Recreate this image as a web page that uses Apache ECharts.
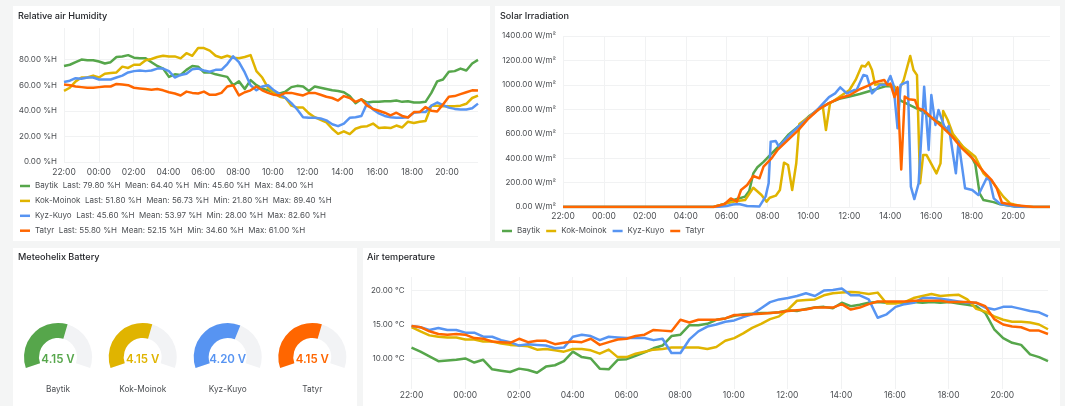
<!DOCTYPE html>
<html>
<head>
<meta charset="utf-8">
<style>html,body{margin:0;padding:0;background:#f4f5f5;}#main{width:1065px;height:406px;}</style>
<script src="https://cdn.jsdelivr.net/npm/echarts@6/dist/echarts.min.js"></script>
</head>
<body>
<div id="main"></div>
<script>
var stations = ['Baytik', 'Kok-Moinok', 'Kyz-Kuyo', 'Tatyr'];
var colors = ['#56a64b', '#e0b400', '#5794f2', '#ff6600'];
var hourLabels = ['22:00','00:00','02:00','04:00','06:00','08:00','10:00','12:00','14:00','16:00','18:00','20:00'];

// humidity, one value every 20 minutes from 22:00
var humBaytik = [75,76,78,80,79.5,79.5, 78.5,77,78,82,82.5,83.5, 81.5,81,81,78,75,73, 66.5,68.5,68,72,75,74.5,
  70,70,68.5,67.5,66.5,60, 63,57,64,60,57.5,56, 54.5,53.5,55,58.5,59.5,59, 55.5,59,58,57,56,55.5,
  54.5,51.5,46,49,46.5,47, 47,47.5,47.5,48,47,47.5, 46.5,46.5,47,54,63,64.5, 70.5,71,73,71.5,77,79.8];
var humKok = [55.5,58,63,66,66,67.5, 66,69,69.5,70,74.5,73.5, 76,76,79.5,80.5,82,83, 82.5,82.5,81,85,83,89,
  89,87,83,81.5,83,81.5, 81,82,83.5,71,66,58, 54,51,50,44,42.5,42.5, 38,35,33,31,26,22,
  24,21.8,26,27.5,28,30, 26.5,27,26.5,28.5,27,31.5, 30.5,31.5,32,44,44,43.5, 43.5,43.5,44,45.5,50,51.8];
var humKyz = [62.5,63.5,65.5,65,66,66, 64.5,64.5,64.5,66,67.5,70, 71,71.5,71,71.5,73,73, 71,66,68,69,72.5,73,
  71.5,70.5,72,72,76.5,82.6, 78,70,60,56,59,60, 56,53,50,46,41,35, 34.5,34.5,34,32.5,29.5,28,
  30,34.5,35,36,46,41, 38,36,35,34.5,34.5,35, 38.5,39,39,44,46.5,44.5, 42.5,41.5,41,41,42,45.6];
var humTatyr = [60.5,60,59,58.5,58,58, 58.5,59,59,61,60.5,60, 58,57.5,57,56.5,57,56, 54.5,53.5,52,55,54,53.5,
  55,52.5,52.5,54,59,60, 52,54.5,56,59,56,54, 52.5,52,54,54,53,52, 54,54,52.5,51,50,48,
  51.5,50,47,49,44,41.5, 40,38.5,36.5,38.5,36,34.8, 39,39,43,40,39.5,45, 51,51.5,53,54.5,56,55.8];

// air temperature, one value every 20 minutes from 22:00
var tempBaytik = [11.6,11,10.3,9.6,9.7,9.8, 10,9.4,9.8,8.4,8.2,8, 8.5,8.3,7.9,8.8,9,9.6, 11,10.2,10,8.5,8.4,9.8,
  9.9,10.4,10.9,11.5,11.9,13.3, 13.5,14.9,14.9,15.1,15.7,15.9, 16.3,16.5,16.6,16.7,16.7,16.8, 17.1,17,17.3,17.5,17.6,17.4,
  18.2,17.7,17.9,18.2,18.3,18.2, 18.2,18.2,18.3,18.2,18.3,18.2, 18.3,18.1,17.9,17.7,16.7,14.3, 13,12.3,12,10.6,10.2,9.6];
var tempKok = [14.6,14,13.4,13.2,13.1,13.1, 12.8,12.8,12.5,12.5,12.2,12, 11.9,11.8,11.3,11.4,11.2,11, 11.4,11.4,11.2,10.7,11.3,10.2,
  10.2,10.7,11,11.3,11.4,11.6, 11.6,11.6,11.6,11.4,11.7,12.6, 13,13.7,14.5,15.1,15.8,16.2, 17.2,18.5,18.6,18.7,19.3,19.6,
  19.7,19.8,19.7,19.5,19.7,18.1, 18.1,18.3,18.9,19.2,19.5,19.2, 19.3,19.4,18.7,17.3,16.9,16.2, 15.7,15.4,15.4,15.3,15,14.3];
var tempKyz = [14.8,14.6,14.2,14.5,14.2,14.2, 13.8,13.8,13.2,13.2,12.7,12.4, 11.9,12.1,12,11.9,11.5,11.6, 13.2,13.5,13.3,12.7,13.2,13.1,
  13,13,13,12.7,12.9,10.8, 10.8,12.8,14,14.7,15,15.4, 15.6,16.1,16.5,17.4,18.3,18.7, 18.9,19.2,19.6,19.2,20,20.1,
  20.3,19.3,19.3,18.7,16,16.5, 17.6,18,18.2,18.9,18.9,18.8, 18.6,18.4,18.2,18.2,17.5,17.2, 17.6,17.6,17.3,17,16.8,16.2];
var tempTatyr = [14.8,14.6,14,13.6,13.5,13.6, 13.5,13,12.9,12.5,12.4,12.3, 12.9,12.4,12.6,12.6,12.1,12.3, 12.5,12.4,12.9,12,12.4,12.8,
  12.9,13.3,13.5,14.2,14.1,14, 15.7,15.3,15.7,15.7,15.7,15.9, 16.4,16.4,16.5,16.6,16.7,16.8, 17,17.1,17.2,17.5,17.5,17.5,
  18,17.2,17.5,18,18.4,18.4, 18.4,18.4,18.5,18.5,18.5,18.5, 18.3,18.3,18.3,18.2,17.7,15.8, 15,14.7,14.6,14.1,14.1,13.6];

// solar irradiation as [clock hour, W/m2], readings are irregular so the hour is kept
var solarBaytik = [[22,0],[5.35,0],[5.8,20],[6.2,50],[6.5,65],[6.9,85],[7.1,130],[7.3,275],[7.5,325],[7.8,370],[8,405],[8.5,490],[9,590],[9.5,660],[10,740],[10.5,800],[11,850],[11.5,885],[12,905],[12.5,925],[13,950],[13.5,975],[13.8,990],[14.2,985],[14.5,870],[15,830],[15.5,790],[16,730],[16.5,680],[17,590],[17.5,500],[18,400],[18.15,350],[18.36,112],[18.55,57],[19.04,40],[19.37,22],[20.03,5],[20.5,0],[21.8,0]];
var solarKok = [[22,0],[5.35,0],[6,30],[6.5,49],[6.9,57],[7.3,158],[7.7,98],[7.95,44],[8.1,76],[8.4,93],[8.6,139],[8.8,363],[9,344],[9.2,139],[9.4,358],[9.55,680],[10,735],[10.5,800],[10.7,820],[10.85,630],[11.05,850],[11.5,900],[12,958],[12.3,1040],[12.6,1157],[12.77,1150],[12.93,1185],[13.1,1122],[13.25,1000],[13.6,1010],[13.9,1000],[14.2,985],[14.4,950],[14.65,1040],[14.97,1237],[15.13,1122],[15.3,1080],[15.45,194],[15.6,425],[15.77,425],[16.25,275],[16.45,357],[16.58,786],[16.8,712],[17.05,600],[17.55,494],[18.15,412],[18.55,275],[19.04,194],[19.52,85],[19.85,30],[20.35,8],[21,0],[21.8,0]];
var solarKyz = [[22,0],[5.5,0],[6,8],[6.3,20],[6.6,25],[7,8],[7.6,5],[7.9,85],[8.05,194],[8.15,535],[8.4,540],[8.55,494],[9,576],[9.5,658],[10,730],[10.5,810],[11,900],[11.3,930],[11.55,980],[11.87,930],[12.25,958],[12.35,958],[12.68,1081],[12.85,1073],[13.1,931],[13.5,1000],[13.8,1000],[14,1073],[14.15,1000],[14.35,644],[14.5,1000],[14.85,1026],[15,167],[15.17,65],[15.38,194],[15.65,985],[15.87,467],[16,917],[16.2,672],[16.35,794],[16.7,630],[16.85,663],[17.2,276],[17.33,535],[17.65,153],[18,139],[18.3,98],[18.7,235],[18.85,221],[19.05,71],[19.37,25],[20.03,5],[20.7,0],[21.8,0]];
var solarTatyr = [[22,0],[5.35,0],[5.9,25],[6.2,70],[6.5,44],[6.7,139],[7,180],[7.3,254],[7.6,235],[7.8,330],[8.2,400],[8.5,470],[9,550],[9.5,630],[10,725],[10.5,800],[11,850],[11.5,890],[12,915],[12.5,964],[13,1000],[13.2,1020],[13.7,1040],[13.85,1000],[14,1010],[14.2,900],[14.35,980],[14.53,308],[14.7,904],[14.9,882],[15.2,876],[15.35,808],[15.6,795],[16,735],[16.5,660],[17,580],[17.5,480],[18,400],[18.55,290],[18.95,220],[19.2,153],[19.45,35],[20.03,16],[20.5,8],[21,0],[21.8,0]];

var battery = [4.15, 4.15, 4.20, 4.15];
var humStats = [
  {last: 79.80, mean: 64.40, min: 45.60, max: 84.00},
  {last: 51.80, mean: 56.73, min: 21.80, max: 89.40},
  {last: 45.60, mean: 53.97, min: 28.00, max: 82.60},
  {last: 55.80, mean: 52.15, min: 34.60, max: 61.00}
];
var humTicks = [0, 20, 40, 60, 80];
var solarTicks = [0, 200, 400, 600, 800, 1000, 1200, 1400];
var tempTicks = [10, 15, 20];

var font = 'Inter';
var textColor = '#4b4e52';
var gridColor = '#f1f2f3';

// evenly spaced samples to [hours since 22:00, value]
function spaced(values, end) {
  return values.map(function (v, i) { return [i * end / (values.length - 1), v]; });
}
function sinceStart(pairs) {
  return pairs.map(function (p) { return [p[0] >= 22 ? p[0] - 22 : p[0] + 2, p[1]]; });
}

function xAxisFor(i, end, margin) {
  return {
    type: 'value', gridIndex: i, min: 0, max: end, interval: 2,
    axisLine: {show: false}, axisTick: {show: false},
    splitLine: {show: true, showMaxLine: false, lineStyle: {color: gridColor, width: 1}},
    axisLabel: {
      color: textColor, fontFamily: font, fontSize: 8.5, margin: margin, showMaxLabel: false, hideOverlap: false,
      formatter: function (v) { return hourLabels[v / 2] || ''; }
    }
  };
}
function yAxisFor(i, lo, hi, ticks, unit) {
  return {
    type: 'value', gridIndex: i, min: lo, max: hi,
    axisLine: {show: false},
    axisTick: {show: false, customValues: ticks},
    splitLine: {show: true, lineStyle: {color: gridColor, width: 1}},
    axisLabel: {
      customValues: ticks, color: textColor, fontFamily: font, fontSize: 8, margin: 7,
      formatter: function (v) { return v.toFixed(2) + ' ' + unit; }
    }
  };
}
function lineSeries(i, name, color, data) {
  return {
    type: 'line', name: name, xAxisIndex: i, yAxisIndex: i, data: data,
    showSymbol: false, silent: true, animation: false, z: 3,
    lineStyle: {color: color, width: 2.5, join: 'round'}, itemStyle: {color: color}
  };
}

var series = [];
var humData = [humBaytik, humKok, humKyz, humTatyr];
var solarData = [solarBaytik, solarKok, solarKyz, solarTatyr];
var tempData = [tempBaytik, tempKok, tempKyz, tempTatyr];
stations.forEach(function (name, i) {
  series.push(lineSeries(0, name, colors[i], spaced(humData[i], 23.78)));
});
stations.forEach(function (name, i) {
  series.push(lineSeries(1, name, colors[i], sinceStart(solarData[i])));
});
stations.forEach(function (name, i) {
  series.push(lineSeries(2, name, colors[i], spaced(tempData[i], 23.7)));
});

var gaugeX = [58, 142.7, 227.7, 312.3];
stations.forEach(function (name, i) {
  series.push({
    type: 'gauge', center: [gaugeX[i], 357], radius: 34,
    startAngle: 199, endAngle: -19, min: 3, max: 5, animation: false,
    pointer: {show: false}, axisTick: {show: false}, splitLine: {show: false}, axisLabel: {show: false},
    axisLine: {lineStyle: {width: 15, color: [[1, '#f2f3f5']]}},
    progress: {show: true, width: 15, itemStyle: {color: colors[i]}},
    title: {offsetCenter: [0, 32.5], color: textColor, fontFamily: font, fontSize: 8.3},
    detail: {
      offsetCenter: [0, 3], color: colors[i], fontFamily: font, fontSize: 11.5, fontWeight: 600,
      formatter: function (v) { return v.toFixed(2) + ' V'; }
    },
    data: [{value: battery[i], name: name}]
  });
});

function legendBase(extra) {
  var l = {
    data: stations, selectedMode: false, icon: 'rect', itemWidth: 10, itemHeight: 2.5,
    textStyle: {color: textColor, fontFamily: font, fontSize: 8}
  };
  for (var k in extra) l[k] = extra[k];
  return l;
}

function titleAt(text, x, y) {
  return {text: text, left: x, top: y, padding: 0,
    textStyle: {color: '#24262a', fontFamily: font, fontSize: 9.1, fontWeight: 500}};
}

function panel(x, y, w, h) {
  return {type: 'rect', z: -10, silent: true, shape: {x: x, y: y, width: w, height: h}, style: {fill: '#fff'}};
}

var option = {
  backgroundColor: '#f4f5f5',
  animation: false,
  graphic: [panel(13, 6, 477, 235), panel(495, 6, 565, 235), panel(13, 248, 344, 158), panel(363, 248, 697, 158)],
  title: [
    titleAt('Relative air Humidity', 18, 12),
    titleAt('Solar Irradiation', 500, 12),
    titleAt('Meteohelix Battery', 18, 253),
    titleAt('Air temperature', 367, 253)
  ],
  grid: [
    {left: 64, right: 587, top: 28, bottom: 244},
    {left: 563, right: 15, top: 36, bottom: 199},
    {left: 411.5, right: 17, top: 277, bottom: 17}
  ],
  xAxis: [xAxisFor(0, 23.78, 6), xAxisFor(1, 23.8, 5), xAxisFor(2, 23.7, 2)],
  yAxis: [
    yAxisFor(0, 0, 104.7, humTicks, '%H'),
    yAxisFor(1, 0, 1400, solarTicks, 'W/m²'),
    yAxisFor(2, 5.5, 22, tempTicks, '°C')
  ],
  legend: [
    legendBase({
      left: 15, top: 177, orient: 'vertical', itemGap: 6.9,
      formatter: function (name) {
        var s = humStats[stations.indexOf(name)];
        return name + '  Last: ' + s.last.toFixed(2) + ' %H  Mean: ' + s.mean.toFixed(2) +
          ' %H  Min: ' + s.min.toFixed(2) + ' %H  Max: ' + s.max.toFixed(2) + ' %H';
      }
    }),
    legendBase({left: 497, top: 222, orient: 'horizontal', itemGap: 6})
  ],
  series: series
};

var chart = echarts.init(document.getElementById('main'), null, {renderer: 'canvas'});
chart.setOption(option);
</script>
</body>
</html>
